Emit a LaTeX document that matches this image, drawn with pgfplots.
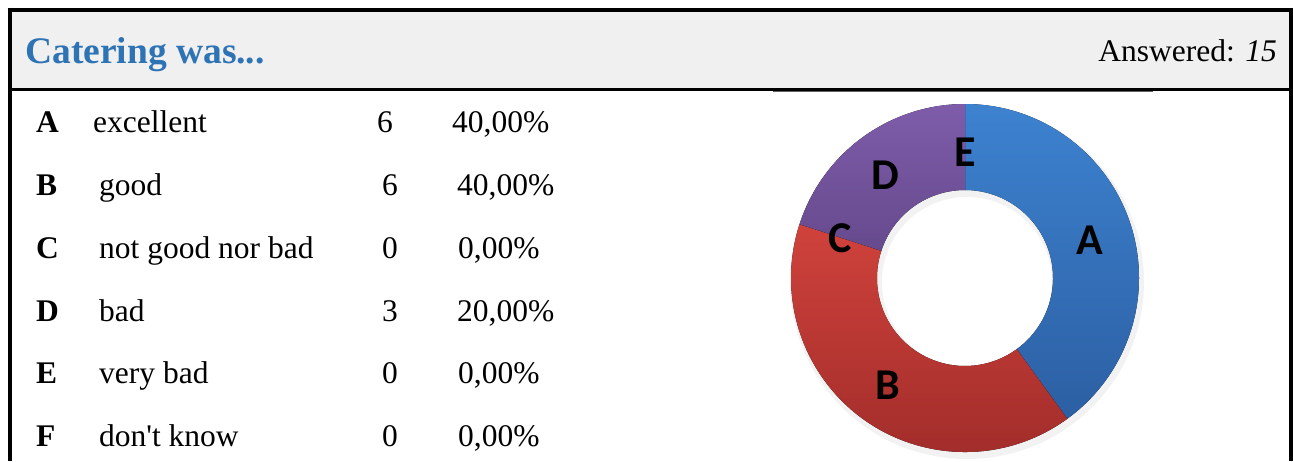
\documentclass[border=0pt]{standalone}
\usepackage{pgfplots}
\pgfplotsset{compat=1.18}
\usepackage{pgfplotstable}
\usepackage{fontspec}
\setmainfont{Liberation Serif}
\newfontfamily\calfont{Carlito}

\definecolor{titleblue}{RGB}{46,116,181}
\definecolor{hdrgray}{RGB}{240,240,240}
\definecolor{aTop}{RGB}{61,130,208}
\definecolor{aBot}{RGB}{44,95,163}
\definecolor{bTop}{RGB}{208,66,60}
\definecolor{bBot}{RGB}{158,43,41}
\definecolor{dTop}{RGB}{126,92,170}
\definecolor{dBot}{RGB}{102,74,141}

\pgfplotstableread{
key label count pct
A excellent 6 40,00
B good 6 40,00
C {not good nor bad} 0 0,00
D bad 3 20,00
E {very bad} 0 0,00
F {don't know} 0 0,00
}\answers

\newcommand{\body}{\fontsize{31.5}{36}\selectfont}

\begin{document}
\begin{tikzpicture}
% angles from the counts (total 15), clockwise from 90 degrees
\pgfplotstablegetelem{0}{count}\of\answers \let\cA\pgfplotsretval
\pgfplotstablegetelem{1}{count}\of\answers \let\cB\pgfplotsretval
\pgfplotstablegetelem{2}{count}\of\answers \let\cC\pgfplotsretval
\pgfplotstablegetelem{3}{count}\of\answers \let\cD\pgfplotsretval
\pgfplotstablegetelem{4}{count}\of\answers \let\cE\pgfplotsretval
\pgfplotstablegetelem{5}{count}\of\answers \let\cF\pgfplotsretval
\pgfmathsetmacro{\tot}{\cA+\cB+\cC+\cD+\cE+\cF}
\pgfmathsetmacro{\aO}{90}
\pgfmathsetmacro{\aA}{\aO-360*\cA/\tot}
\pgfmathsetmacro{\aB}{\aA-360*\cB/\tot}
\pgfmathsetmacro{\aC}{\aB-360*\cC/\tot}
\pgfmathsetmacro{\aD}{\aC-360*\cD/\tot}
\begin{axis}[
  x=1pt, y=1pt, y dir=reverse,
  xmin=0, xmax=1293, ymin=0, ymax=461,
  enlargelimits=false, hide axis, clip=false,
]
% header band
\fill[hdrgray] (axis cs:9.5,9.5) rectangle (axis cs:1291,89.5);
% donut shadow (soft)
\fill[black, opacity=0.05] ([shift={(2pt,-4pt)}]axis cs:965,278) circle[radius=177pt];
\fill[white] ([shift={(2pt,-4pt)}]axis cs:965,278) circle[radius=85pt];
% donut slices
\fill[top color=aTop, bottom color=aBot]
  ([shift={(\aO:174pt)}]axis cs:965,278) arc[start angle=\aO, end angle=\aA, radius=174pt]
  -- ([shift={(\aA:88pt)}]axis cs:965,278) arc[start angle=\aA, end angle=\aO, radius=88pt] -- cycle;
\fill[top color=bTop, bottom color=bBot]
  ([shift={(\aA:174pt)}]axis cs:965,278) arc[start angle=\aA, end angle=\aB, radius=174pt]
  -- ([shift={(\aB:88pt)}]axis cs:965,278) arc[start angle=\aB, end angle=\aA, radius=88pt] -- cycle;
\fill[top color=dTop, bottom color=dBot]
  ([shift={(\aC:174pt)}]axis cs:965,278) arc[start angle=\aC, end angle=\aD, radius=174pt]
  -- ([shift={(\aD:88pt)}]axis cs:965,278) arc[start angle=\aD, end angle=\aC, radius=88pt] -- cycle;
% donut labels
\begin{scope}[every node/.style={font=\calfont\bfseries\fontsize{44}{50}\selectfont, inner sep=0pt}]
\node at (axis cs:1090,240) {A};
\node at (axis cs:888,385) {B};
\node at (axis cs:840,238) {C};
\node at (axis cs:885,175) {D};
\node at (axis cs:965,152) {E};
\end{scope}
% borders
\draw[line width=4pt] (axis cs:7.5,9.5) -- (axis cs:1293,9.5);
\draw[line width=4pt] (axis cs:9.5,7.5) -- (axis cs:9.5,461);
\draw[line width=3.5pt] (axis cs:1291,7.5) -- (axis cs:1291,461);
\draw[line width=1.5pt, color=black!62] (axis cs:773,91) -- (axis cs:1153,91);
\draw[line width=3pt] (axis cs:9.5,89.3) -- (axis cs:1291,89.3);
% header text
\node[anchor=base west, inner sep=0pt, text=titleblue, font=\bfseries\fontsize{37.5}{44}\selectfont] at (axis cs:25,63.3) {Catering was...};
\node[anchor=base east, inner sep=0pt, font=\body] at (axis cs:1277,61) {Answered: \textit{15}};
% table rows
\begin{scope}[every node/.style={anchor=base west, inner sep=0pt, font=\body}]
\node at (axis cs:36,132.7) {\textbf{A}};
\node at (axis cs:93,132.7) {excellent};
\node at (axis cs:377,132.7) {6};
\node at (axis cs:452,132.7) {40,00\%};
\node at (axis cs:36,195.5) {\textbf{B}};
\node at (axis cs:99,195.5) {good};
\node at (axis cs:382,195.5) {6};
\node at (axis cs:457,195.5) {40,00\%};
\node at (axis cs:36,258.3) {\textbf{C}};
\node at (axis cs:99,258.3) {not good nor bad};
\node at (axis cs:382,258.3) {0};
\node at (axis cs:458,258.3) {0,00\%};
\node at (axis cs:36,321.1) {\textbf{D}};
\node at (axis cs:99,321.1) {bad};
\node at (axis cs:382,321.1) {3};
\node at (axis cs:457,321.1) {20,00\%};
\node at (axis cs:36,383.9) {\textbf{E}};
\node at (axis cs:99,383.9) {very bad};
\node at (axis cs:382,383.9) {0};
\node at (axis cs:458,383.9) {0,00\%};
\node at (axis cs:36,446.7) {\textbf{F}};
\node at (axis cs:99,446.7) {don\textquotesingle t know};
\node at (axis cs:382,446.7) {0};
\node at (axis cs:458,446.7) {0,00\%};
\end{scope}
\coordinate (bbSW) at (axis cs:0,461);
\coordinate (bbNE) at (axis cs:1293,0);
\end{axis}
\pgfresetboundingbox
\path[use as bounding box] (bbSW) rectangle (bbNE);
\end{tikzpicture}
\end{document}
